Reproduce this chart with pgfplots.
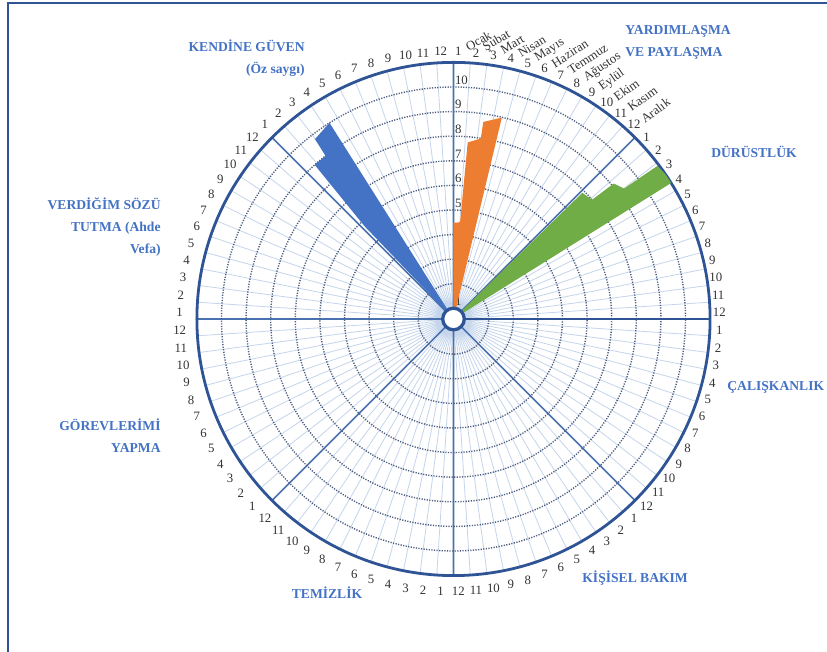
\documentclass[border=0pt]{standalone}
\usepackage{fontspec}
\setmainfont{Liberation Serif}
\usepackage{pgfplots}
\pgfplotsset{compat=1.18}
\usepgfplotslibrary{polar}
\usetikzlibrary{calc}
\definecolor{outerblue}{HTML}{2F5496}
\definecolor{majblue}{HTML}{4A72B0}
\definecolor{minblue}{HTML}{C5D5EC}
\definecolor{dotgray}{HTML}{4E5E80}
\definecolor{labgray}{HTML}{333333}
\definecolor{titleblue}{HTML}{4472C4}
\definecolor{barblue}{HTML}{4472C4}
\definecolor{barorange}{HTML}{ED7D31}
\definecolor{bargreen}{HTML}{70AD47}
\begin{document}
\begin{tikzpicture}
\begin{scope}[x=0.5pt,y=0.5pt]
\useasboundingbox (0,0) rectangle (827,652);
\fill[white] (0,0) rectangle (827,652);
\draw[outerblue, line width=1.1pt] (8,0) -- (8,649) -- (827,649);

% month numbers round the circle
\begin{scope}[shift={(449.5,330.5)}, font=\fontsize{6.4}{7}\selectfont, text=labgray]
\foreach \i in {0,...,95}{
  \pgfmathsetmacro\a{90-3.75*(\i+0.5)}
  \pgfmathtruncatemacro\m{mod(\i,12)+1}
  \node[inner sep=0pt] at (\a:270) {\m};
}
\foreach \n [count=\k] in {Ocak,Şubat,Mart,Nisan,Mayıs,Haziran,Temmuz,Ağustos,Eylül,Ekim,Kasım,Aralık}{
  \pgfmathsetmacro\a{90-3.75*(\k-0.5)}
  \pgfmathsetmacro\r{29+0.65*\k}
  \node[inner sep=0pt, anchor=west, rotate=\r] at ($(\a:270)+(8,4)$) {\n};
}
\end{scope}

% sector titles
\begin{scope}[font=\fontsize{6.8}{11}\selectfont\bfseries, text=titleblue, inner sep=0pt]
\node[anchor=east, align=right] at (305,594) {KENDİNE GÜVEN\\(Öz saygı)};
\node[anchor=west, align=left] at (625,610) {YARDIMLAŞMA\\VE PAYLAŞMA};
\node at (754,500) {DÜRÜSTLÜK};
\node[anchor=west] at (727,265) {ÇALIŞKANLIK};
\node[anchor=west] at (582,74) {KİŞİSEL BAKIM};
\node at (327,59) {TEMİZLİK};
\node[anchor=east, align=right] at (161,216) {GÖREVLERİMİ\\YAPMA};
\node[anchor=east, align=right] at (161,425) {VERDİĞİM SÖZÜ\\TUTMA (Ahde\\Vefa)};
\end{scope}
\end{scope}

\begin{polaraxis}[
  at={(226.75pt,166.5pt)}, anchor=center,
  scale only axis, width=256.6pt, height=256.6pt,
  xmin=0, xmax=360, ymin=0, ymax=10.43,
  xtick={0,45,...,315},
  minor xtick={0,3.75,...,356.25},
  ytick={1.43,2.43,...,9.43},
  xticklabels={}, yticklabels={},
  major tick length=0pt, minor tick length=0pt,
  xmajorgrids, xminorgrids, ymajorgrids,
  major x grid style={draw=majblue, line width=0.8pt},
  minor x grid style={draw=minblue, line width=0.4pt},
  major y grid style={draw=dotgray, line width=0.7pt, dash pattern=on 0.6pt off 0.7pt},
  axis line style={draw=outerblue, line width=1.4pt},
]
% radial value labels
\begin{scope}[font=\fontsize{6.4}{7}\selectfont]
\node[anchor=west, inner sep=0.6pt, text=labgray] at (axis cs:90,0.71) {1};
\node[anchor=west, inner sep=0.6pt, text=labgray] at (axis cs:90,1.71) {2};
\node[anchor=west, inner sep=0.6pt, text=labgray] at (axis cs:90,2.71) {3};
\node[anchor=west, inner sep=0.6pt, text=labgray] at (axis cs:90,3.71) {4};
\node[anchor=west, inner sep=0.6pt, text=labgray] at (axis cs:90,4.71) {5};
\node[anchor=west, inner sep=0.6pt, text=labgray] at (axis cs:90,5.71) {6};
\node[anchor=west, inner sep=0.6pt, text=labgray] at (axis cs:90,6.71) {7};
\node[anchor=west, inner sep=0.6pt, text=labgray] at (axis cs:90,7.71) {8};
\node[anchor=west, inner sep=0.6pt, text=labgray] at (axis cs:90,8.71) {9};
\node[anchor=west, inner sep=0.6pt, text=labgray] at (axis cs:90,9.71) {10};
\end{scope}
% KENDİNE GÜVEN
\addplot[draw=none, fill=barblue, y filter/.expression={y+0.43}] coordinates {
  (133.8,0) (133.8,4.8) (132.0,8.0) (128.1,8.0) (127.6,8.8) (122.3,9.0) (122.3,0)} -- cycle;
% YARDIMLAŞMA VE PAYLAŞMA
\addplot[draw=none, fill=barorange, y filter/.expression={y+0.43}] coordinates {
  (90,0) (90,3.48) (86.1,3.51) (85.4,6.77) (81.4,6.99) (81.4,7.67) (76.5,7.99) (76.5,0)} -- cycle;
% DÜRÜSTLÜK
\addplot[draw=none, fill=bargreen, y filter/.expression={y+0.43}] coordinates {
  (45,0) (44.4,6.9) (40.7,7.0) (40.2,8.1) (37.4,8.3) (36.9,9.93) (32.0,10.1) (32.0,0)} -- cycle;
\draw[draw=outerblue, line width=1.65pt, fill=white] (axis cs:0,0) circle[radius=5.4pt];
\end{polaraxis}
\end{tikzpicture}
\end{document}
